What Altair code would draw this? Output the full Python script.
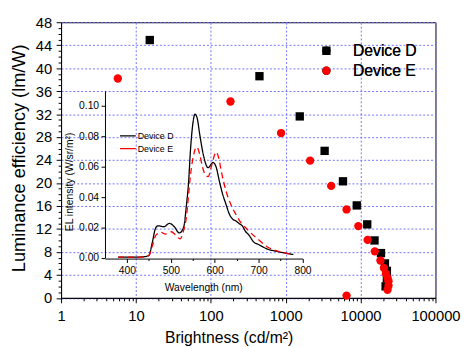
import altair as alt
import pandas as pd

devices = ["Device D", "Device E"]

# Main chart: brightness (cd/m2) vs luminance efficiency (lm/W)
d_bright = [15.3, 446, 1540, 3310, 5820, 8890, 12270, 15350, 18720, 21130, 22440, 22440, 21580]
d_eff = [44.9, 38.6, 31.6, 25.6, 20.3, 16.1, 12.8, 10.0, 7.8, 6.0, 4.7, 3.4, 2.0]
e_bright = [5.73, 183, 867, 2120, 4050, 6500, 9330, 12410, 15490, 18400, 20500, 21800,
            22900, 23600, 23600, 22900, 6500]
e_eff = [38.2, 34.2, 28.7, 23.9, 19.5, 15.4, 12.5, 10.1, 8.1, 6.5, 5.2, 4.2, 3.5, 2.9, 2.1, 1.4, 0.4]

# Inset: EL spectra
wl_d = [380, 400, 420, 440, 450, 458, 465, 471, 484, 497, 508, 519, 529, 536, 540, 545, 550,
        555, 560, 566, 574, 585, 596, 603, 611, 618, 626, 633, 641, 648, 656, 663, 670, 678,
        689, 700, 708, 720, 738, 760, 779]
int_d = [0.0005, 0.0005, 0.0005, 0.0008, 0.0017, 0.0104, 0.0194, 0.0211, 0.0205, 0.0227,
         0.0205, 0.0164, 0.0200, 0.0360, 0.0480, 0.0720, 0.0880, 0.0946, 0.0920, 0.0810,
         0.0680, 0.0594, 0.0628, 0.0600, 0.0500, 0.0420, 0.0350, 0.0290, 0.0255, 0.0244,
         0.0225, 0.0210, 0.0175, 0.0150, 0.0104, 0.0088, 0.0075, 0.0058, 0.0045, 0.0032, 0.0022]
wl_e = [380, 400, 420, 440, 450, 458, 466, 477, 488, 501, 511, 521, 529, 536, 540, 545, 551,
        556, 559, 566, 572, 578, 585, 594, 603, 609, 615, 626, 637, 648, 660, 670, 682, 693,
        704, 715, 738, 760, 779]
int_e = [0.0005, 0.0005, 0.0005, 0.0007, 0.0015, 0.0080, 0.0150, 0.0168, 0.0157, 0.0172,
         0.0150, 0.0125, 0.0179, 0.0280, 0.0400, 0.0550, 0.0665, 0.0720, 0.0730, 0.0680,
         0.0600, 0.0550, 0.0535, 0.0620, 0.0697, 0.0660, 0.0570, 0.0438, 0.0350, 0.0287,
         0.0230, 0.0200, 0.0165, 0.0136, 0.0110, 0.0082, 0.0049, 0.0033, 0.0020]

x_major = [1, 10, 100, 1000, 10000, 100000]
x_minor = [m * 10 ** k for k in range(5) for m in range(2, 10)]
y_major = list(range(0, 49, 4))
y_minor = [v for v in range(0, 49) if v % 4]
ix_major = [400, 500, 600, 700, 800]
ix_minor = [450, 550, 650, 750]
iy_major = [0.0, 0.02, 0.04, 0.06, 0.08, 0.10]

scatter_df = pd.DataFrame({
    "device": ["Device D"] * len(d_bright) + ["Device E"] * len(e_bright),
    "brightness": d_bright + e_bright,
    "eff": d_eff + e_eff,
})
spec_df = pd.DataFrame({
    "device": ["Device D"] * len(wl_d) + ["Device E"] * len(wl_e),
    "wl": wl_d + wl_e,
    "inten": int_d + int_e,
})

FONT = "Liberation Sans"
GRID = "#7272ff"

xs = alt.Scale(type="log", domain=[1, 100000], nice=False)
ys = alt.Scale(domain=[0, 48], nice=False, zero=False)

main_legend = alt.Legend(title=None, orient="none", legendX=262, legendY=21,
                         labelFontSize=16, symbolSize=72, labelOffset=19,
                         clipHeight=16, rowPadding=4.4)

points = alt.Chart(scatter_df).mark_point(filled=True, opacity=1, size=72).encode(
    x=alt.X("brightness:Q", scale=xs, axis=alt.Axis(
        orient="bottom", values=x_major, format="d", title="Brightness (cd/m²)",
        grid=True, gridColor=GRID, gridDash=[2, 2], gridWidth=1, labelFlush=False,
        tickSize=5, labelPadding=6, labelFontSize=15, titleFontSize=16,
        titleX=170.5, titleY=45, titleBaseline="alphabetic", titleAlign="center")),
    y=alt.Y("eff:Q", scale=ys, axis=alt.Axis(
        orient="left", values=y_major, title="Luminance efficiency (lm/W)",
        grid=True, gridColor=GRID, gridDash=[2, 2], gridWidth=1, labelFlush=False,
        tickSize=5, labelPadding=4.5, labelFontSize=15, titleFontSize=18.5,
        titleX=-37, titleY=138, titleBaseline="alphabetic", titleAlign="center", titleAngle=-90)),
    color=alt.Color("device:N", scale=alt.Scale(domain=devices, range=["black", "red"]),
                    legend=main_legend),
    shape=alt.Shape("device:N", scale=alt.Scale(domain=devices, range=["square", "circle"]),
                    legend=main_legend),
)

minor_main = alt.Chart(scatter_df).mark_point(opacity=0).encode(
    x=alt.X("brightness:Q", scale=xs, axis=alt.Axis(
        orient="bottom", values=x_minor, labels=False, title=None, grid=False,
        domain=False, tickSize=3)),
    y=alt.Y("eff:Q", scale=ys, axis=alt.Axis(
        orient="left", values=y_minor, labels=False, title=None, grid=False,
        domain=False, tickSize=3)),
)

main = alt.layer(points, minor_main).resolve_axis(x="independent", y="independent")

ix = alt.Scale(domain=[350, 800], range=[44.7, 245.7], nice=False, zero=False)
iy = alt.Scale(domain=[0, 0.11], range=[239.8, 69.8], nice=False, zero=False)

inset_legend = alt.Legend(title=None, orient="none", legendX=60, legendY=109.5,
                          labelFontSize=9, symbolSize=100, symbolType="M-2,0H2",
                          symbolStrokeWidth=1.3, labelOffset=6, clipHeight=12.3,
                          rowPadding=0)

lines = alt.Chart(spec_df).mark_line(interpolate="monotone", strokeWidth=1.3).encode(
    x=alt.X("wl:Q", scale=ix, axis=alt.Axis(
        orient="bottom", offset=-40, values=ix_major, title="Wavelength (nm)", grid=False,
        labelFlush=False,
        tickSize=4, labelPadding=3.5, labelFontSize=10.5, titleFontSize=10.5,
        titleX=144.7, titleY=32.5, titleBaseline="alphabetic", titleAlign="center")),
    y=alt.Y("inten:Q", scale=iy, axis=alt.Axis(
        orient="left", offset=-44.7, values=iy_major, format=".2f",
        title="EL intensity (W/sr/m²)", grid=False, labelFlush=False,
        tickSize=4, labelPadding=2.5, labelFontSize=10.5, titleFontSize=10.5,
        titlePadding=4, titleY=162, titleAlign="center", titleAngle=-90)),
    color=alt.Color("device:N", scale=alt.Scale(domain=devices, range=["black", "red"]),
                    legend=inset_legend),
    strokeDash=alt.StrokeDash("device:N", scale=alt.Scale(domain=devices, range=[[1, 0], [6, 4]]),
                              legend=inset_legend),
)

minor_inset = alt.Chart(spec_df).mark_point(opacity=0).encode(
    x=alt.X("wl:Q", scale=ix, axis=alt.Axis(
        orient="bottom", offset=-40, values=ix_minor, labels=False, title=None, grid=False,
        domain=False, tickSize=2)),
    y=alt.Y("inten:Q", scale=iy, axis=None),
)

inset = alt.layer(lines, minor_inset).resolve_axis(x="independent", y="independent")

chart = alt.layer(main, inset).resolve_scale(
    x="independent", y="independent", color="independent"
).resolve_legend(color="independent").properties(
    width=381, height=280.5,
    padding={"left": 54, "top": 11.5, "right": 27, "bottom": 47},
    autosize=alt.AutoSizeParams(type="none"),
    background="white",
).configure_view(
    stroke="black", strokeWidth=1
).configure_axis(
    labelFont=FONT, titleFont=FONT, labelColor="black", titleColor="black",
    domainColor="black", tickColor="black", titleFontWeight="normal",
    domainWidth=1, tickWidth=1,
).configure_legend(
    labelFont=FONT, labelColor="black",
)

chart.save("out.html", embed_options={"renderer": "svg", "actions": False})
